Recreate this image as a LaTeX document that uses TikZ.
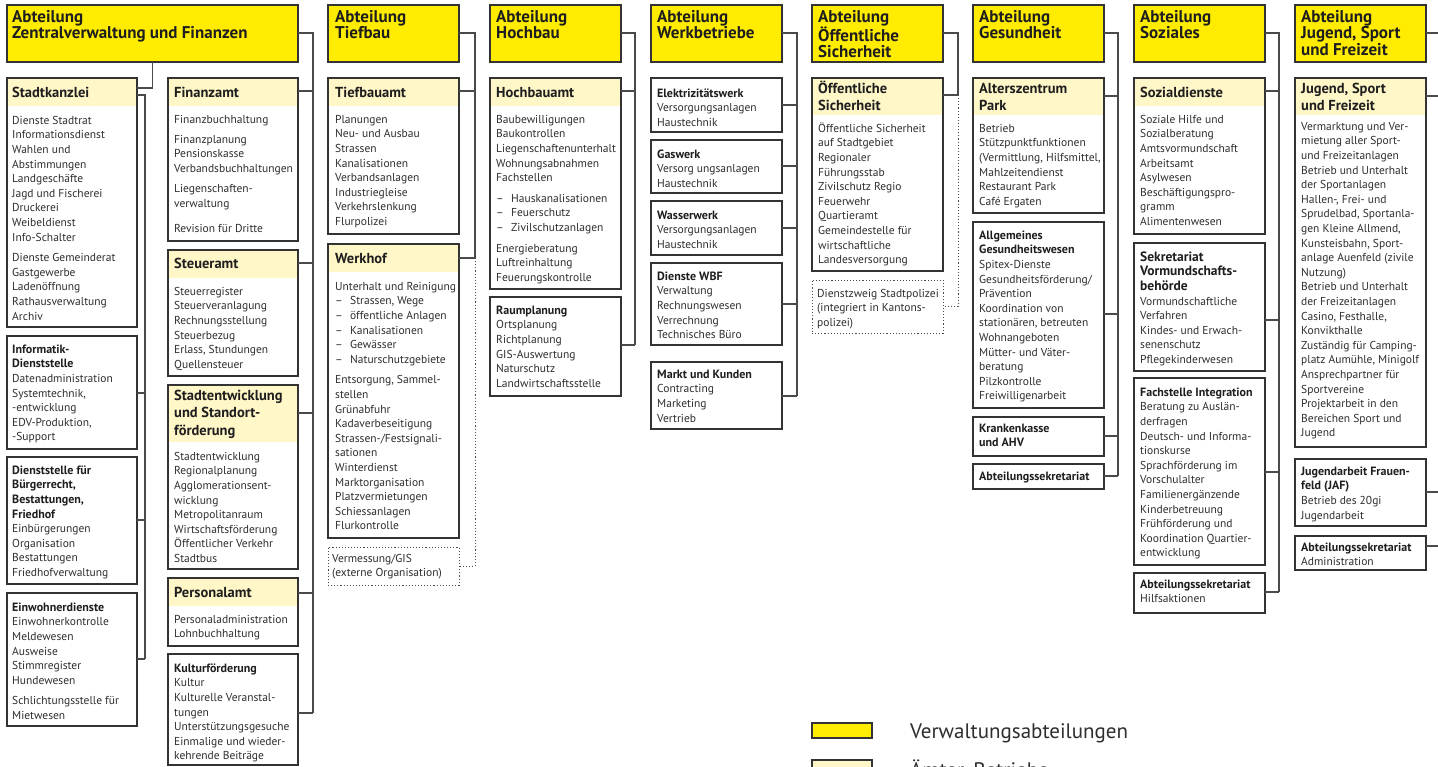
\documentclass[tikz,border=0pt]{standalone}
\usepackage{fontspec}
\setmainfont{PT Sans}
\definecolor{deptc}{HTML}{FFEC00}
\definecolor{bandc}{HTML}{FFF7C8}
\definecolor{bordc}{HTML}{333333}
\definecolor{linec}{HTML}{4A4A4A}
\definecolor{textc}{HTML}{2E2E2E}
\definecolor{headc}{HTML}{1E1E1E}
\newcommand\fbody{\fontsize{11.5}{14.6}\selectfont}
\newcommand\fhead{\fontsize{14.5}{17.5}\selectfont\bfseries}
\newcommand\fdept{\fontsize{17}{16.5}\selectfont\bfseries}
\newcommand\flegend{\fontsize{21}{24}\selectfont}
\newcommand\fl{\rule{0pt}{11pt}}
\newcommand\fh{\rule{0pt}{14pt}}
\newcommand\tb[1]{{\fontsize{12}{14.6}\selectfont\bfseries\color{headc}#1}}
\newcommand\tbb[1]{{\fontsize{13.5}{14.6}\selectfont\bfseries\color{headc}#1}}
\newcommand\di[1]{\makebox[15pt][l]{–}#1}
\tikzset{
  bx/.style={draw=bordc, line width=1.1pt, inner sep=0pt, outer sep=0pt, anchor=north west},
  conn/.style={draw=linec, line width=1.2pt},
  dconn/.style={draw=linec, line width=1pt, dash pattern=on 1.1pt off 2pt},
  body/.style={anchor=north west, inner sep=0pt, align=left, text=textc, font=\fbody},
  head/.style={anchor=north west, inner sep=0pt, align=left, text=headc, font=\fhead},
  dept/.style={anchor=north west, inner sep=0pt, align=left, text=headc, font=\fdept},
}
% name, x1, y1, x2, y2
\newcommand\plainbox[5]{\node[bx, fill=white, minimum width={#4-#2}, minimum height={#5-#3}] (#1) at (#2,#3) {};}
\newcommand\deptbox[5]{\node[bx, fill=deptc, minimum width={#4-#2}, minimum height={#5-#3}] (#1) at (#2,#3) {};}
\newcommand\dotbox[5]{\node[bx, draw=linec, line width=1pt, dash pattern=on 1.1pt off 2pt, minimum width={#4-#2}, minimum height={#5-#3}] (#1) at (#2,#3) {};}
% name, x1, y1, x2, y2, band bottom
\newcommand\bandbox[6]{\fill[bandc] (#2,#3) rectangle (#4,#6);
  \node[bx, minimum width={#4-#2}, minimum height={#5-#3}] (#1) at (#2,#3) {};}
% connector: node, drop from top, bus coordinate
\newcommand\cn[3]{\path ([yshift=-#2pt]#1.north east) coordinate (#1-c);
  \draw[conn] (#1-c) -- (#1-c -| #3);}
\begin{document}
\begin{tikzpicture}[x=1pt,y=-1pt]
\useasboundingbox (0,0) rectangle (1438,766);
\fill[white] (0,0) rectangle (1438,766);

% ================= Column 1: Zentralverwaltung und Finanzen
\deptbox{zv}{7}{5}{298}{62}
\node[dept] (zv-t) at (12,8) {\fh Abteilung\\Zentralverwaltung und Finanzen};

\bandbox{sk}{7}{78}{137}{327}{106}
\node[head] (sk-h) at (12,83) {\fh Stadtkanzlei};
\node[body] (sk-t) at (12,113) {\fl Dienste Stadtrat\\Informationsdienst\\Wahlen und\\Abstimmungen\\Landgeschäfte\\Jagd und Fischerei\\Druckerei\\Weibeldienst\\Info-Schalter\\[6pt]Dienste Gemeinderat\\Gastgewerbe\\Ladenöffnung\\Rathausverwaltung\\Archiv};

\plainbox{inf}{7}{336}{137}{449}
\node[body] (inf-t) at (12,342) {\fl\tb{Informatik-}\\\tb{Dienststelle}\\Datenadministration\\Systemtechnik,\\-entwicklung\\EDV-Produktion,\\-Support};

\plainbox{dbf}{7}{457}{137}{584}
\node[body] (dbf-t) at (12,463) {\fl\tb{Dienststelle für}\\\tb{Bürgerrecht,}\\\tb{Bestattungen,}\\\tb{Friedhof}\\Einbürgerungen\\Organisation\\Bestattungen\\Friedhofverwaltung};

\plainbox{ewd}{7}{593}{137}{726}
\node[body] (ewd-t) at (12,600) {\fl\tb{Einwohnerdienste}\\Einwohnerkontrolle\\Meldewesen\\Ausweise\\Stimmregister\\Hundewesen\\[6pt]Schlichtungsstelle für\\Mietwesen};

\bandbox{fa}{168}{78}{298}{241}{106}
\node[head] (fa-h) at (174,83) {\fh Finanzamt};
\node[body] (fa-t) at (174,112) {\fl Finanzbuchhaltung\\[5.5pt]Finanzplanung\\Pensionskasse\\Verbandsbuchhaltungen\\[5.5pt]Liegenschaften-\\verwaltung\\[11pt]Revision für Dritte};

\bandbox{sta}{168}{250}{298}{376}{278}
\node[head] (sta-h) at (174,254) {\fh Steueramt};
\node[body] (sta-t) at (174,284) {\fl Steuerregister\\Steuerveranlagung\\Rechnungsstellung\\Steuerbezug\\Erlass, Stundungen\\Quellensteuer};

\bandbox{sef}{168}{385}{298}{569}{442}
\node[head] (sef-h) at (174,386) {\fh Stadtentwicklung\\und Standort-\\förderung};
\node[body] (sef-t) at (174,449) {\fl Stadtentwicklung\\Regionalplanung\\Agglomerationsent-\\wicklung\\Metropolitanraum\\Wirtschaftsförderung\\Öffentlicher Verkehr\\Stadtbus};

\bandbox{pa}{168}{578}{298}{646}{606}
\node[head] (pa-h) at (174,583) {\fh Personalamt};
\node[body] (pa-t) at (174,612) {\fl Personaladministration\\Lohnbuchhaltung};

\plainbox{kf}{168}{654}{298}{765}
\node[body] (kf-t) at (174,661) {\fl\tb{Kulturförderung}\\Kultur\\Kulturelle Veranstal-\\tungen\\Unterstützungsgesuche\\Einmalige und wieder-\\kehrende Beiträge};

% connectors column 1
\coordinate (bus1l) at (145,659);
\coordinate (bus1r) at (313,713);
\draw[conn] (zv.south) |- ([yshift=-10pt]sk.north east);
\path ([yshift=-17pt]sk.north east) coordinate (sk-c);
\draw[conn] (sk-c) -| (bus1l);
\cn{inf}{57}{bus1l}
\cn{dbf}{63}{bus1l}
\cn{ewd}{66}{bus1l}
\path ([yshift=-28pt]zv.north east) coordinate (zv-c);
\draw[conn] (zv-c) -| (bus1r);
\cn{fa}{13}{bus1r}
\cn{sta}{13}{bus1r}
\cn{sef}{28}{bus1r}
\cn{pa}{15}{bus1r}
\cn{kf}{59}{bus1r}

% ================= Column 2: Tiefbau
\deptbox{tb}{328}{5}{459}{62}
\node[dept] (tb-t) at (335,8) {\fh Abteilung\\Tiefbau};
\bandbox{tba}{328}{78}{459}{234}{106}
\node[head] (tba-h) at (335,83) {\fh Tiefbauamt};
\node[body] (tba-t) at (335,112) {\fl Planungen\\Neu- und Ausbau\\Strassen\\Kanalisationen\\Verbandsanlagen\\Industriegleise\\Verkehrslenkung\\Flurpolizei};
\bandbox{wh}{328}{244}{459}{538}{272}
\node[head] (wh-h) at (335,249) {\fh Werkhof};
\node[body] (wh-t) at (335,279) {\fl Unterhalt und Reinigung\\\di{Strassen, Wege}\\\di{öffentliche Anlagen}\\\di{Kanalisationen}\\\di{Gewässer}\\\di{Naturschutzgebiete}\\[6pt]Entsorgung, Sammel-\\stellen\\Grünabfuhr\\Kadaverbeseitigung\\Strassen-/Festsignali-\\sationen\\Winterdienst\\Marktorganisation\\Platzvermietungen\\Schiessanlagen\\Flurkontrolle};
\dotbox{vm}{328}{547}{459}{585}
\node[body] (vm-t) at (332,551) {\fl Vermessung/GIS\\(externe Organisation)};
\coordinate (bus2) at (475,258);
\path ([yshift=-28pt]tb.north east) coordinate (tb-c);
\draw[conn] (tb-c) -| (bus2);
\cn{tba}{13}{bus2}
\cn{wh}{14}{bus2}
\path ([yshift=-19pt]vm.north east) coordinate (vm-c);
\draw[dconn] (bus2) |- (vm-c);

% ================= Column 3: Hochbau
\deptbox{hb}{490}{5}{621}{62}
\node[dept] (hb-t) at (496,8) {\fh Abteilung\\Hochbau};
\bandbox{hba}{490}{78}{621}{289}{106}
\node[head] (hba-h) at (496,83) {\fh Hochbauamt};
\node[body] (hba-t) at (496,112) {\fl Baubewilligungen\\Baukontrollen\\Liegenschaftenunterhalt\\Wohnungsabnahmen\\Fachstellen\\[6pt]\di{Hauskanalisationen}\\\di{Feuerschutz}\\\di{Zivilschutzanlagen}\\[6pt]Energieberatung\\Luftreinhaltung\\Feuerungskontrolle};
\plainbox{rp}{490}{297}{621}{396}
\node[body] (rp-t) at (496,303) {\fl\tb{Raumplanung}\\Ortsplanung\\Richtplanung\\GIS-Auswertung\\Naturschutz\\Landwirtschaftsstelle};
\coordinate (bus3) at (635,345);
\path ([yshift=-28pt]hb.north east) coordinate (hb-c);
\draw[conn] (hb-c) -| (bus3);
\cn{hba}{13}{bus3}
\cn{rp}{48}{bus3}

% ================= Column 4: Werkbetriebe
\deptbox{wb}{651}{5}{782}{62}
\node[dept] (wb-t) at (657,8) {\fh Abteilung\\Werkbetriebe};
\plainbox{ew}{651}{78}{782}{132}
\node[body] (ew-t) at (657,86) {\fl\tb{Elektrizitätswerk}\\Versorgungsanlagen\\Haustechnik};
\plainbox{gw}{651}{140}{782}{193}
\node[body] (gw-t) at (657,147) {\fl\tb{Gaswerk}\\Versorg ungsanlagen\\Haustechnik};
\plainbox{ww}{651}{201}{782}{255}
\node[body] (ww-t) at (657,208) {\fl\tb{Wasserwerk}\\Versorgungsanlagen\\Haustechnik};
\plainbox{wbf}{651}{263}{782}{345}
\node[body] (wbf-t) at (657,269) {\fl\tb{Dienste WBF}\\Verwaltung\\Rechnungswesen\\Verrechnung\\Technisches Büro};
\plainbox{mk}{651}{362}{782}{429}
\node[body] (mk-t) at (657,367) {\fl\tb{Markt und Kunden}\\Contracting\\Marketing\\Vertrieb};
\coordinate (bus4) at (797,396);
\path ([yshift=-28pt]wb.north east) coordinate (wb-c);
\draw[conn] (wb-c) -| (bus4);
\cn{ew}{27}{bus4}
\cn{gw}{26}{bus4}
\cn{ww}{27}{bus4}
\cn{wbf}{41}{bus4}
\cn{mk}{34}{bus4}

% ================= Column 5: Oeffentliche Sicherheit
\deptbox{os}{812}{5}{943}{62}
\node[dept] (os-t) at (818,8) {\fh Abteilung\\Öffentliche\\Sicherheit};
\bandbox{osb}{812}{78}{943}{271}{115}
\node[head] (osb-h) at (818,79) {\fh Öffentliche\\Sicherheit};
\node[body] (osb-t) at (818,121) {\fl Öffentliche Sicherheit\\auf Stadtgebiet\\Regionaler\\Führungsstab\\Zivilschutz Regio\\Feuerwehr\\Quartieramt\\Gemeindestelle für\\wirtschaftliche\\Landesversorgung};
\dotbox{dz}{812}{280}{943}{333}
\node[body] (dz-t) at (817,286) {\fl Dienstzweig Stadtpolizei\\(integriert in Kantons-\\polizei)};
\coordinate (bus5) at (958,95);
\path ([yshift=-28pt]os.north east) coordinate (os-c);
\draw[conn] (os-c) -| (bus5);
\cn{osb}{17}{bus5}
\path ([yshift=-26pt]dz.north east) coordinate (dz-c);
\draw[dconn] (bus5) |- (dz-c);

% ================= Column 6: Gesundheit
\deptbox{ge}{973}{5}{1104}{62}
\node[dept] (ge-t) at (979,8) {\fh Abteilung\\Gesundheit};
\bandbox{az}{973}{78}{1104}{213}{115}
\node[head] (az-h) at (979,79) {\fh Alterszentrum\\Park};
\node[body] (az-t) at (979,121) {\fl Betrieb\\Stützpunktfunktionen\\(Vermittlung, Hilfsmittel,\\Mahlzeitendienst\\Restaurant Park\\Café Ergaten};
\plainbox{ag}{973}{222}{1104}{408}
\node[body] (ag-t) at (979,228) {\fl\tb{Allgemeines}\\\tb{Gesundheitswesen}\\Spitex-Dienste\\Gesundheitsförderung/\\Prävention\\Koordination von\\stationären, betreuten\\Wohnangeboten\\Mütter- und Väter-\\beratung\\Pilzkontrolle\\Freiwilligenarbeit};
\plainbox{kk}{973}{417}{1104}{456}
\node[body] (kk-t) at (979,421) {\fl\tb{Krankenkasse}\\\tb{und AHV}};
\plainbox{gas}{973}{464}{1104}{489}
\node[body] (gas-t) at (979,469) {\fl\tb{Abteilungssekretariat}};
\coordinate (bus6) at (1118,476);
\path ([yshift=-28pt]ge.north east) coordinate (ge-c);
\draw[conn] (ge-c) -| (bus6);
\cn{az}{18}{bus6}
\cn{ag}{92}{bus6}
\cn{kk}{19}{bus6}
\cn{gas}{12}{bus6}

% ================= Column 7: Soziales
\deptbox{so}{1134}{5}{1265}{62}
\node[dept] (so-t) at (1140,8) {\fh Abteilung\\Soziales};
\bandbox{sd}{1134}{78}{1265}{234}{106}
\node[head] (sd-h) at (1140,83) {\fh Sozialdienste};
\node[body] (sd-t) at (1140,112) {\fl Soziale Hilfe und\\Sozialberatung\\Amtsvormundschaft\\Arbeitsamt\\Asylwesen\\Beschäftigungspro-\\gramm\\Alimentenwesen};
\plainbox{sv}{1134}{243}{1265}{371}
\node[body] (sv-t) at (1140,250) {\fl\tbb{Sekretariat}\\\tbb{Vormundschafts-}\\\tbb{behörde}\\Vormundschaftliche\\Verfahren\\Kindes- und Erwach-\\senenschutz\\Pflegekinderwesen};
\plainbox{fi}{1134}{378}{1265}{565}
\node[body] (fi-t) at (1140,385) {\fl\tb{Fachstelle Integration}\\Beratung zu Auslän-\\derfragen\\Deutsch- und Informa-\\tionskurse\\Sprachförderung im\\Vorschulalter\\Familienergänzende\\Kinderbetreuung\\Frühförderung und\\Koordination Quartier-\\entwicklung};
\plainbox{sas}{1134}{573}{1265}{613}
\node[body] (sas-t) at (1140,577) {\fl\tb{Abteilungssekretariat}\\Hilfsaktionen};
\coordinate (bus7) at (1279,592);
\path ([yshift=-28pt]so.north east) coordinate (so-c);
\draw[conn] (so-c) -| (bus7);
\cn{sd}{13}{bus7}
\cn{sv}{77}{bus7}
\cn{fi}{94}{bus7}
\cn{sas}{19}{bus7}

% ================= Column 8: Jugend, Sport und Freizeit
\deptbox{ju}{1295}{5}{1426}{62}
\node[dept] (ju-t) at (1301,8) {\fh Abteilung\\Jugend, Sport\\und Freizeit};
\bandbox{jsf}{1295}{78}{1426}{447}{115}
\node[head] (jsf-h) at (1301,79) {\fh Jugend, Sport\\und Freizeit};
\node[body] (jsf-t) at (1301,119) {\fl Vermarktung und Ver-\\mietung aller Sport-\\und Freizeitanlagen\\Betrieb und Unterhalt\\der Sportanlagen\\Hallen-, Frei- und\\Sprudelbad, Sportanla-\\gen Kleine Allmend,\\Kunsteisbahn, Sport-\\anlage Auenfeld (zivile\\Nutzung)\\Betrieb und Unterhalt\\der Freizeitanlagen\\Casino, Festhalle,\\Konvikthalle\\Zuständig für Camping-\\platz Aumühle, Minigolf\\Ansprechpartner für\\Sportvereine\\Projektarbeit in den\\Bereichen Sport und\\Jugend};
\plainbox{jaf}{1295}{459}{1426}{526}
\node[body] (jaf-t) at (1301,464) {\fl\tb{Jugendarbeit Frauen-}\\\tb{feld (JAF)}\\Betrieb des 20gi\\Jugendarbeit};
\plainbox{jas}{1295}{536}{1426}{570}
\node[body] (jas-t) at (1301,540) {\fl\tb{Abteilungssekretariat}\\Administration};
\coordinate (bus8) at (1445,546);
\path ([yshift=-28pt]ju.north east) coordinate (ju-c);
\draw[conn] (ju-c) -| (bus8);
\cn{jsf}{18}{bus8}
\cn{jaf}{33}{bus8}
\cn{jas}{10}{bus8}

% ================= Legend
\node[bx, fill=deptc, minimum width=60, minimum height=15] (lg1) at (812,723) {};
\node[anchor=base west, inner sep=0pt, font=\flegend, text=textc] (lg1-t) at (910,738) {Verwaltungsabteilungen};
\node[bx, fill=bandc, minimum width=60, minimum height=15] (lg2) at (812,760) {};
\node[anchor=base west, inner sep=0pt, font=\flegend, text=textc] (lg2-t) at (910,777) {Ämter, Betriebe};
\end{tikzpicture}
\end{document}
